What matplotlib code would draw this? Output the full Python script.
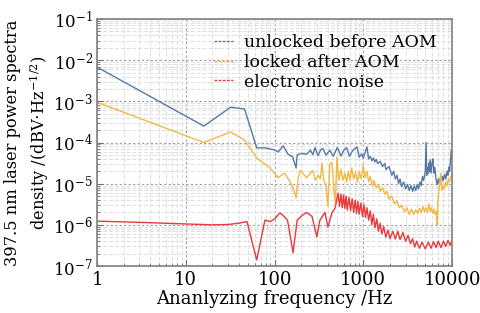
import numpy as np
import matplotlib
matplotlib.use("Agg")
import matplotlib.pyplot as plt
from matplotlib.lines import Line2D
from matplotlib.ticker import LogLocator, NullFormatter

plt.rcParams['font.family'] = 'DejaVu Serif'
plt.rcParams['mathtext.fontset'] = 'dejavuserif'

# unlocked before AOM
f_unlocked = [1, 16, 32, 46, 63, 78, 100, 110, 125, 142, 160, 175, 180, 200, 230, 255,
              270, 286, 310, 330, 350, 380, 420, 460, 510, 560, 600, 650, 700, 760,
              850, 900, 960, 1000, 1100, 1150, 1200, 1250, 1300, 1350, 1400, 1450,
              1550, 1650, 1750, 1800, 1950, 2100, 2200, 2300, 2400, 2500, 2600, 2700,
              2850, 3000, 3150, 3300, 3450, 3600, 3750, 3900, 4050, 4200, 4350, 4500,
              4650, 4800, 5000, 5100, 5200, 5300, 5400, 5500, 5600, 5700, 5800, 5950,
              6100, 6250, 6400, 6600, 6800, 7000, 7200, 7400, 7600, 7800, 8000, 8250,
              8500, 8800, 9000, 9200, 9400, 9600, 9800, 10000]
v_unlocked = [6.8e-3, 2.5e-4, 7.2e-4, 6.5e-4, 7.4e-5, 7.4e-5, 6.6e-5, 5.9e-5, 8.3e-5, 5.2e-5,
              4.5e-5, 2.4e-5, 5.0e-5, 5.4e-5, 5.2e-5, 6.5e-5,
              5.0e-5, 7.5e-5, 4.8e-5, 6.6e-5, 7.2e-5, 4.9e-5, 6.5e-5, 4.6e-5, 7.6e-5, 4.7e-5,
              6.3e-5, 7.5e-5, 4.6e-5, 6.4e-5,
              7.8e-5, 4.4e-5, 5.3e-5, 4.2e-5, 7.8e-5, 4.0e-5, 4.6e-5, 3.6e-5, 4.2e-5, 3.4e-5,
              3.9e-5, 3.1e-5,
              3.5e-5, 2.6e-5, 3.1e-5, 2.2e-5, 2.6e-5, 1.6e-5, 2.0e-5, 1.3e-5, 1.6e-5, 1.0e-5,
              1.3e-5, 8.5e-6,
              1.1e-5, 7.5e-6, 9.5e-6, 6.8e-6, 9.0e-6, 6.5e-6, 8.8e-6, 6.8e-6, 9.5e-6, 7.5e-6,
              1.1e-5, 9.0e-6,
              1.5e-5, 1.2e-5, 2.0e-5, 1.0e-4, 1.6e-5, 2.5e-5, 1.8e-5, 3.2e-5, 2.0e-5, 3.8e-5,
              1.8e-5, 3.0e-5,
              4.0e-5, 1.8e-5, 2.5e-5, 1.3e-5, 9.5e-6, 1.3e-5, 1.0e-5, 1.4e-5, 1.1e-5, 1.5e-5,
              1.2e-5, 1.7e-5,
              1.3e-5, 2.0e-5, 1.6e-5, 2.5e-5, 2.0e-5, 3.5e-5, 6.5e-5, 3.8e-5]

# locked after AOM
f_locked = [1, 16, 32, 46, 63, 89, 110, 130, 150, 165, 175, 185, 195, 230, 270, 290,
            310, 330, 343, 360, 380, 400, 420, 445, 465, 485, 505, 530, 560, 590, 620,
            650, 680, 710, 740, 780, 820, 860, 900, 950, 1000, 1050, 1100, 1150, 1200,
            1260, 1320, 1400, 1480, 1560, 1650, 1750, 1850, 1950, 2100, 2250, 2400,
            2550, 2700, 2900, 3100, 3300, 3500, 3700, 3900, 4100, 4300, 4500, 4700,
            4900, 5100, 5300, 5500, 5700, 5900, 6100, 6300, 6500, 6700, 6800, 6950,
            7200, 7500, 7700, 7900, 8200, 8500, 8800, 9100, 9400, 9700, 10000]
v_locked = [9.5e-4, 1.0e-4, 1.8e-4, 1.15e-4, 4.2e-5, 2.4e-5, 1.4e-5, 1.8e-5, 1.1e-5, 7.0e-6,
            4.5e-6, 1.4e-5, 2.1e-5, 1.4e-5, 2.1e-5, 1.2e-5,
            1.6e-5, 1.3e-5, 3.2e-5, 1.2e-5, 9.0e-6, 2.8e-6, 3.0e-5, 3.3e-5, 8.0e-6, 3.5e-6,
            4.5e-5, 1.2e-5, 2.2e-5, 1.2e-5, 1.8e-5,
            1.1e-5, 2.0e-5, 1.2e-5, 2.4e-5, 1.3e-5, 1.9e-5, 1.1e-5, 2.0e-5, 1.3e-5, 2.8e-5,
            1.4e-5, 2.0e-5, 1.1e-5, 1.5e-5,
            9.0e-6, 1.2e-5, 8.0e-6, 9.5e-6, 6.5e-6, 8.0e-6, 5.5e-6, 6.5e-6, 4.2e-6, 5.0e-6,
            3.2e-6, 3.8e-6,
            2.6e-6, 3.0e-6, 2.1e-6, 2.6e-6, 1.8e-6, 2.4e-6, 1.8e-6, 2.3e-6, 1.9e-6, 2.5e-6,
            2.0e-6, 2.8e-6,
            2.1e-6, 2.6e-6, 2.0e-6, 3.2e-6, 2.1e-6, 2.6e-6, 1.9e-6, 2.4e-6, 1.8e-6, 2.1e-6,
            1.0e-6, 4.0e-6,
            9.0e-6, 1.8e-5, 7.0e-6, 9.0e-6, 7.5e-6, 1.1e-5, 9.0e-6, 1.3e-5, 1.1e-5, 1.5e-5,
            1.6e-5]

# electronic noise
f_noise = [1, 3, 10, 20, 30, 40, 49, 63, 78, 89, 101, 115, 125, 140, 162, 180, 205, 230,
           265, 300, 325, 370, 400, 445, 480, 520, 540, 560, 580, 600, 620, 640, 660, 690,
           720, 750, 780, 810, 840, 870, 900, 940, 980, 1020, 1060, 1100, 1150, 1200,
           1250, 1300, 1360, 1420, 1480, 1550, 1620, 1700, 1800, 1900, 2000, 2150, 2300,
           2450, 2600, 2800, 3000, 3200, 3400, 3600, 3800, 4000, 4300, 4600, 5000, 5400,
           5800, 6200, 6600, 7000, 7500, 8000, 8500, 9000, 9500, 10000]
v_noise = [1.23e-6, 1.15e-6, 1.05e-6, 1.0e-6, 1.02e-6, 1.1e-6, 1.2e-6, 1.4e-7, 1.3e-6, 1.2e-6,
           1.4e-6, 1.95e-6, 1.7e-6, 1.3e-6, 2.1e-7, 1.3e-6, 1.7e-6, 2.0e-6,
           1.6e-6, 5.1e-7, 1.3e-6, 2.0e-6, 8.8e-7, 2.0e-6, 2.5e-6, 5.9e-6, 2.8e-6, 5.6e-6,
           2.6e-6, 5.3e-6, 2.5e-6, 5.0e-6, 2.3e-6, 4.6e-6,
           2.2e-6, 4.3e-6, 2.0e-6, 4.0e-6, 1.9e-6, 3.7e-6, 1.8e-6, 3.4e-6, 1.6e-6, 3.1e-6,
           1.5e-6, 2.6e-6, 1.3e-6, 2.2e-6,
           1.0e-6, 1.8e-6, 8.5e-7, 1.4e-6, 7.0e-7, 1.1e-6, 6.0e-7, 9.0e-7, 5.0e-7, 7.5e-7,
           4.6e-7, 7.0e-7, 4.5e-7,
           7.0e-7, 4.4e-7, 6.5e-7, 4.0e-7, 5.5e-7, 3.5e-7, 4.6e-7, 2.9e-7, 4.0e-7, 2.7e-7,
           3.8e-7, 2.6e-7, 3.8e-7,
           2.7e-7, 3.9e-7, 2.8e-7, 4.0e-7, 2.8e-7, 4.0e-7, 3.0e-7, 4.2e-7, 3.2e-7, 4.2e-7]

labels = ['unlocked before AOM', 'locked after AOM', 'electronic noise']
colors = ['#5479a4', '#f2b943', '#e8393c']
x_ticks = [1, 10, 100, 1000, 10000]

fig = plt.figure(figsize=(4.8, 3.13), dpi=100)
ax = fig.add_axes([97/480, 1 - 266/313, 355/480, 247/313])

ax.plot(f_unlocked, v_unlocked, color=colors[0], lw=1.0)
ax.plot(f_locked, v_locked, color=colors[1], lw=1.0)
ax.plot(f_noise, v_noise, color=colors[2], lw=1.0)

ax.set_xscale('log')
ax.set_yscale('log')
ax.set_xlim(1, 10000)
ax.set_ylim(1e-7, 1e-1)

ax.set_xticks(x_ticks)
ax.set_xticklabels([str(t) for t in x_ticks])
ax.xaxis.set_minor_locator(LogLocator(base=10, subs=np.arange(2, 10), numticks=20))
ax.xaxis.set_minor_formatter(NullFormatter())
ax.yaxis.set_major_locator(LogLocator(base=10, numticks=10))
ax.yaxis.set_minor_locator(LogLocator(base=10, subs=np.arange(2, 10), numticks=20))
ax.yaxis.set_minor_formatter(NullFormatter())

ax.grid(which='major', color='#a0a0a0', ls=(0, (2, 2)), lw=0.8)
ax.grid(which='minor', color='#dedede', ls=(0, (4, 2)), lw=0.7)
ax.tick_params(which='both', direction='in', colors='#707070', labelcolor='black',
               top=False, right=False)
ax.tick_params(axis='x', labelsize=13)
ax.tick_params(axis='y', labelsize=12, pad=3)
ax.tick_params(which='major', length=4)
ax.tick_params(which='minor', length=2)
for sp in ax.spines.values():
    sp.set_color('#808080')
    sp.set_linewidth(1.2)

ax.set_xlabel('Ananlyzing frequency /Hz', fontsize=13, labelpad=1)
ax.set_ylabel('397.5 nm laser power spectra\ndensity /(dBV$\\cdot$Hz$^{-1/2}$)',
              fontsize=11.7, linespacing=1.35, va='center')
ax.yaxis.set_label_coords(-0.196, 0.5)

handles = [Line2D([], [], color=c, lw=1.0, ls=(0, (2, 1))) for c in colors]
ax.legend(handles, labels, loc='upper right', frameon=False, fontsize=12.5,
          handlelength=1.1, handletextpad=0.6, labelspacing=0.15,
          bbox_to_anchor=(0.985, 0.98), borderaxespad=0.2)

fig.savefig('out.png', dpi=100)
